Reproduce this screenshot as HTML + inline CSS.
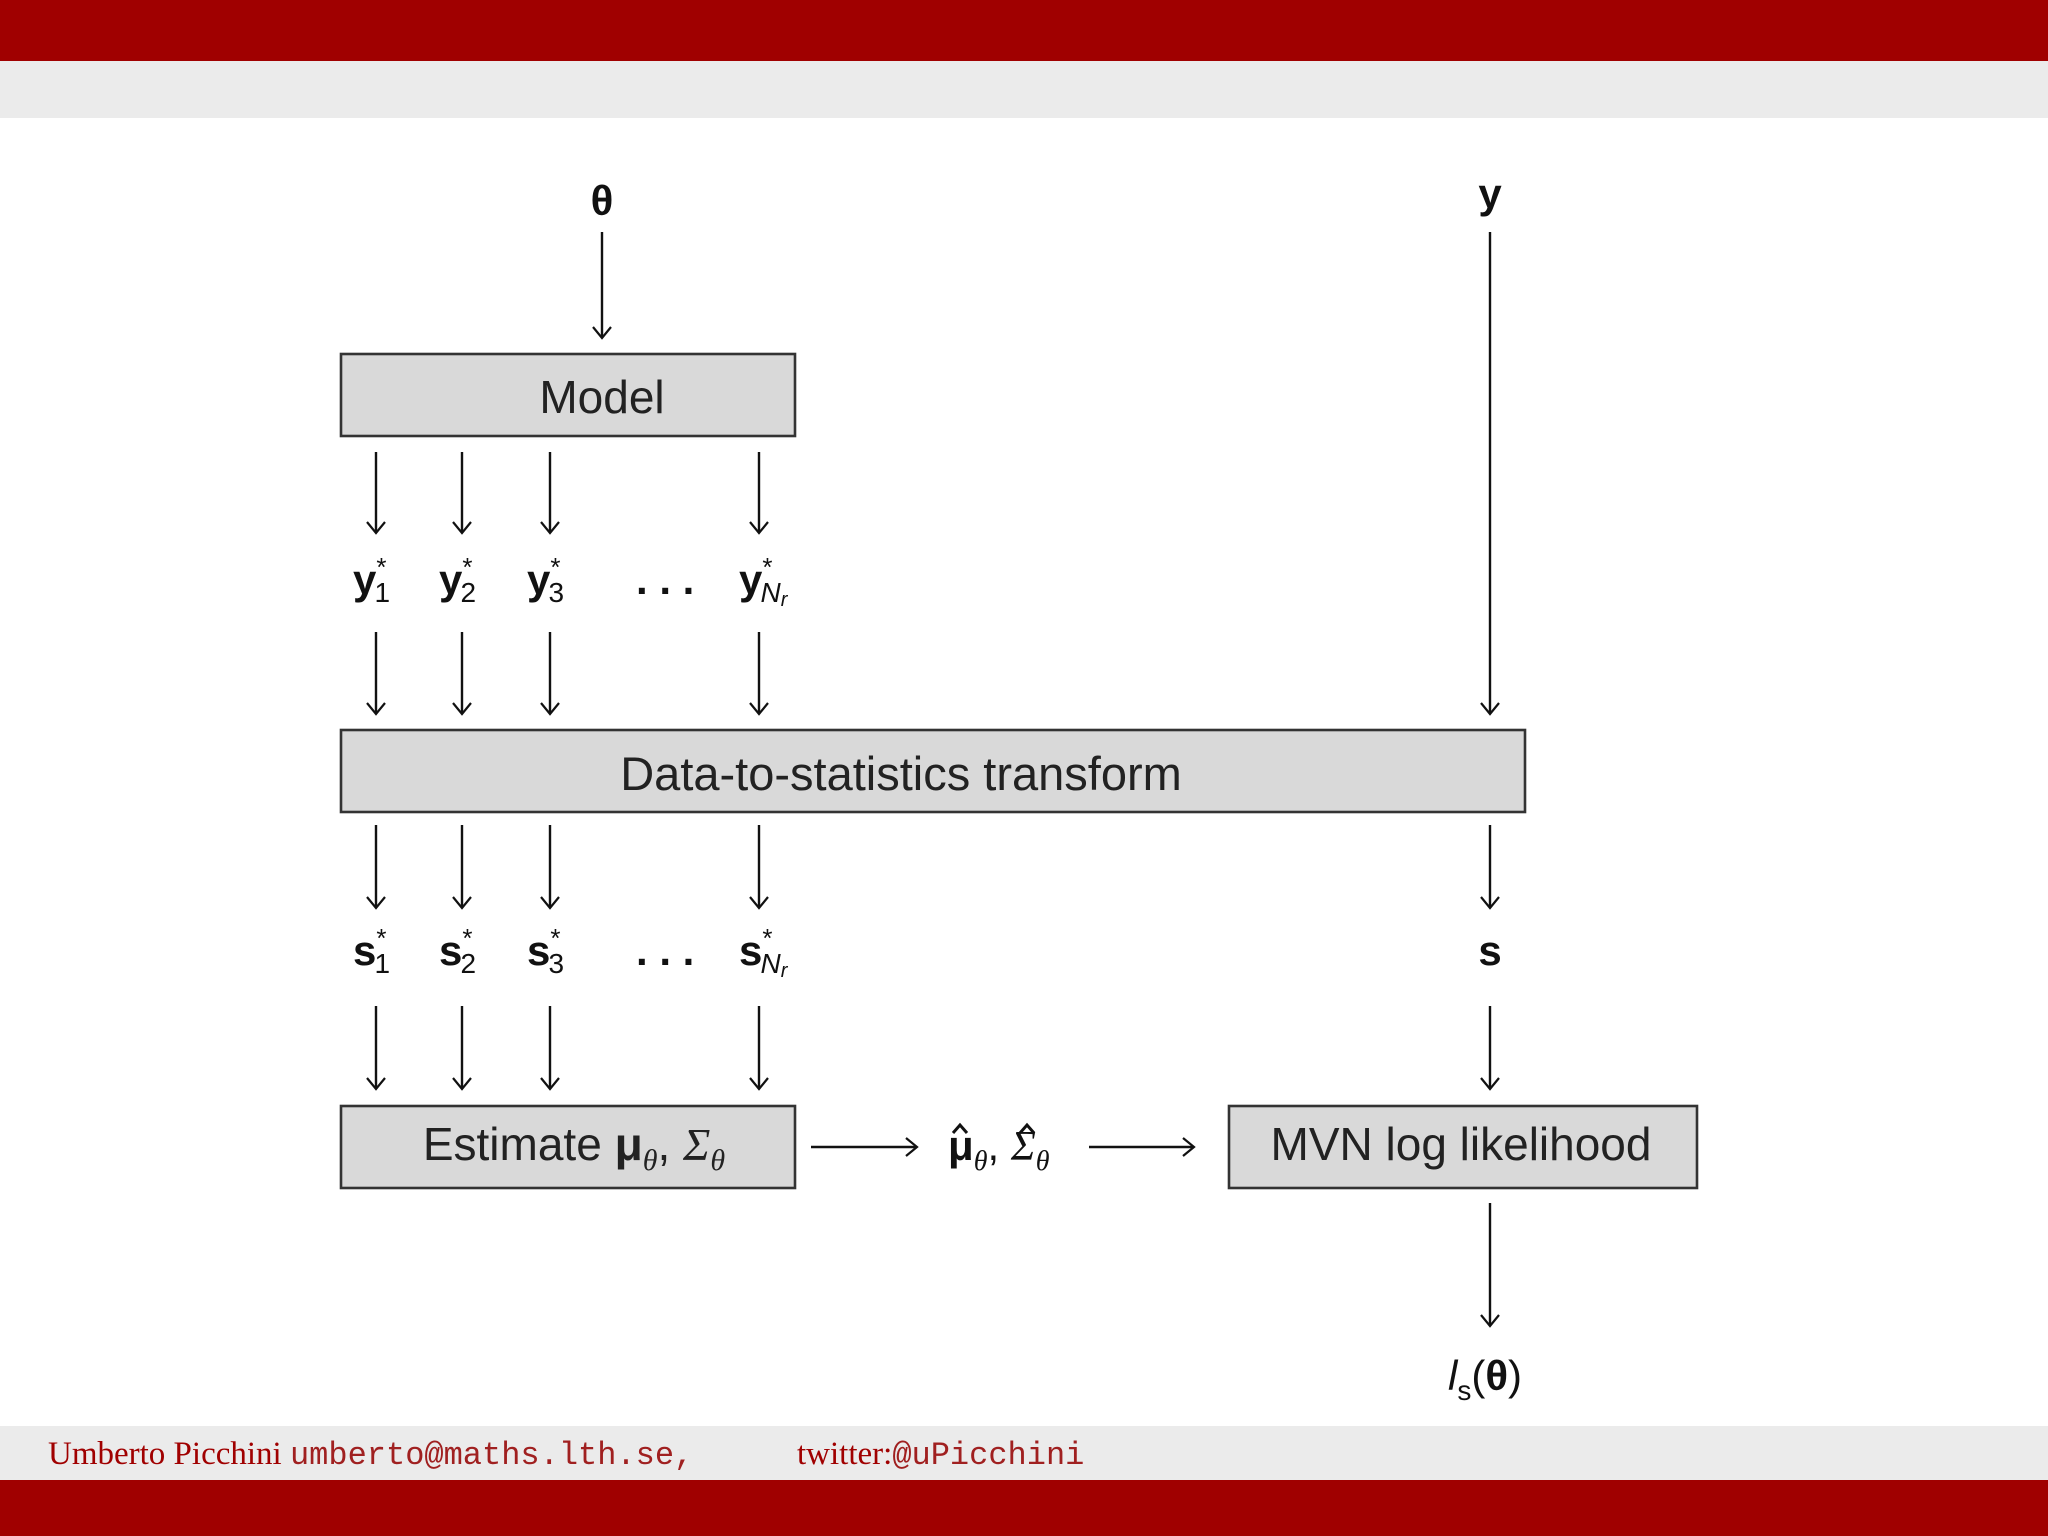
<!DOCTYPE html>
<html><head><meta charset="utf-8"><style>
body{margin:0;width:2048px;height:1536px;overflow:hidden;background:#fff}
svg{display:block}
</style></head><body>
<svg width="2048" height="1536" viewBox="0 0 2048 1536" xmlns="http://www.w3.org/2000/svg">
<defs>
<marker id="a" markerWidth="24" markerHeight="24" refX="12" refY="12" orient="auto" markerUnits="userSpaceOnUse">
<path d="M1,3 L12,12 L1,21" fill="none" stroke="#111" stroke-width="2.2"/>
</marker>
</defs>
<rect x="0" y="0" width="2048" height="61" fill="#a00000"/>
<rect x="0" y="61" width="2048" height="57" fill="#ebebeb"/>
<rect x="0" y="1426" width="2048" height="54" fill="#ebebeb"/>
<rect x="0" y="1480" width="2048" height="56" fill="#a00000"/>

<g stroke="#111" stroke-width="2.4" fill="none" marker-end="url(#a)">
<line x1="602" y1="232" x2="602" y2="338"/>
<line x1="1490" y1="232" x2="1490" y2="714"/>
<line x1="376" y1="452" x2="376" y2="533"/><line x1="462" y1="452" x2="462" y2="533"/><line x1="550" y1="452" x2="550" y2="533"/><line x1="759" y1="452" x2="759" y2="533"/>
<line x1="376" y1="632" x2="376" y2="714"/><line x1="462" y1="632" x2="462" y2="714"/><line x1="550" y1="632" x2="550" y2="714"/><line x1="759" y1="632" x2="759" y2="714"/>
<line x1="376" y1="825" x2="376" y2="908"/><line x1="462" y1="825" x2="462" y2="908"/><line x1="550" y1="825" x2="550" y2="908"/><line x1="759" y1="825" x2="759" y2="908"/><line x1="1490" y1="825" x2="1490" y2="908"/>
<line x1="376" y1="1006" x2="376" y2="1089"/><line x1="462" y1="1006" x2="462" y2="1089"/><line x1="550" y1="1006" x2="550" y2="1089"/><line x1="759" y1="1006" x2="759" y2="1089"/><line x1="1490" y1="1006" x2="1490" y2="1089"/>
<line x1="811" y1="1147" x2="917" y2="1147"/><line x1="1089" y1="1147" x2="1194" y2="1147"/>
<line x1="1490" y1="1203" x2="1490" y2="1326"/>
</g>

<g fill="#d9d9d9" stroke="#333" stroke-width="2.6">
<rect x="341" y="354" width="454" height="82"/>
<rect x="341" y="730" width="1184" height="82"/>
<rect x="341" y="1106" width="454" height="82"/>
<rect x="1229" y="1106" width="468" height="82"/>
</g>

<g font-family="Liberation Sans, sans-serif" font-size="46" fill="#222" text-anchor="middle">
<text x="602" y="413">Model</text>
<text x="901" y="790" font-size="47">Data-to-statistics transform</text>
<text x="574" y="1160">Estimate <tspan font-weight="bold">μ</tspan><tspan font-family="Liberation Serif" font-style="italic" font-size="30" dy="10">θ</tspan><tspan dy="-10">, </tspan><tspan font-family="Liberation Serif" font-style="italic">Σ</tspan><tspan font-family="Liberation Serif" font-style="italic" font-size="30" dy="10">θ</tspan></text>
<text x="1461" y="1160">MVN log likelihood</text>
</g>

<g font-family="Liberation Sans, sans-serif" font-size="42" font-weight="bold" fill="#111" text-anchor="middle">
<text x="602" y="215">θ</text>
<text x="1490" y="208">y</text>
<text x="1490" y="965">s</text>
</g>

<g font-family="Liberation Sans, sans-serif" font-size="42" fill="#111">
<text x="353" y="594"><tspan font-weight="bold">y</tspan><tspan font-size="26" dy="-18">*</tspan><tspan font-size="28" dx="-12" dy="26">1</tspan></text>
<text x="439" y="594"><tspan font-weight="bold">y</tspan><tspan font-size="26" dy="-18">*</tspan><tspan font-size="28" dx="-12" dy="26">2</tspan></text>
<text x="527" y="594"><tspan font-weight="bold">y</tspan><tspan font-size="26" dy="-18">*</tspan><tspan font-size="28" dx="-12" dy="26">3</tspan></text>
<text x="636" y="594" font-weight="bold">. . .</text>
<text x="739" y="594"><tspan font-weight="bold">y</tspan><tspan font-size="26" dy="-18">*</tspan><tspan font-size="28" font-style="italic" dx="-12" dy="26">N<tspan font-size="20" dy="4">r</tspan></tspan></text>

<text x="353" y="965"><tspan font-weight="bold">s</tspan><tspan font-size="26" dy="-18">*</tspan><tspan font-size="28" dx="-12" dy="26">1</tspan></text>
<text x="439" y="965"><tspan font-weight="bold">s</tspan><tspan font-size="26" dy="-18">*</tspan><tspan font-size="28" dx="-12" dy="26">2</tspan></text>
<text x="527" y="965"><tspan font-weight="bold">s</tspan><tspan font-size="26" dy="-18">*</tspan><tspan font-size="28" dx="-12" dy="26">3</tspan></text>
<text x="636" y="965" font-weight="bold">. . .</text>
<text x="739" y="965"><tspan font-weight="bold">s</tspan><tspan font-size="26" dy="-18">*</tspan><tspan font-size="28" font-style="italic" dx="-12" dy="26">N<tspan font-size="20" dy="4">r</tspan></tspan></text>

<text x="948" y="1160"><tspan font-weight="bold">μ</tspan><tspan font-family="Liberation Serif" font-style="italic" font-size="28" dy="10">θ</tspan><tspan dy="-10">, </tspan><tspan font-family="Liberation Serif" font-style="italic">Σ</tspan><tspan font-family="Liberation Serif" font-style="italic" font-size="28" dy="10">θ</tspan></text>

<text x="1448" y="1390"><tspan font-style="italic">l</tspan><tspan font-size="28" dy="10">s</tspan><tspan dy="-10">(</tspan><tspan font-weight="bold">θ</tspan>)</text>
</g>
<g fill="none" stroke="#111" stroke-width="3">
<polyline points="953,1133 960,1125 967,1133"/>
<polyline points="1020,1133 1027,1125 1034,1133"/>
</g>

<g font-size="33">
<text x="48" y="1464" font-family="Liberation Serif, serif" fill="#a00000">Umberto Picchini <tspan font-family="Liberation Mono, monospace" font-size="32" fill="#a02020">umberto@maths.lth.se,</tspan></text>
<text x="797" y="1464" font-family="Liberation Serif, serif" fill="#a00000">twitter:<tspan font-family="Liberation Mono, monospace" font-size="32" fill="#a02020">@uPicchini</tspan></text>
</g>
</svg>
</body></html>
